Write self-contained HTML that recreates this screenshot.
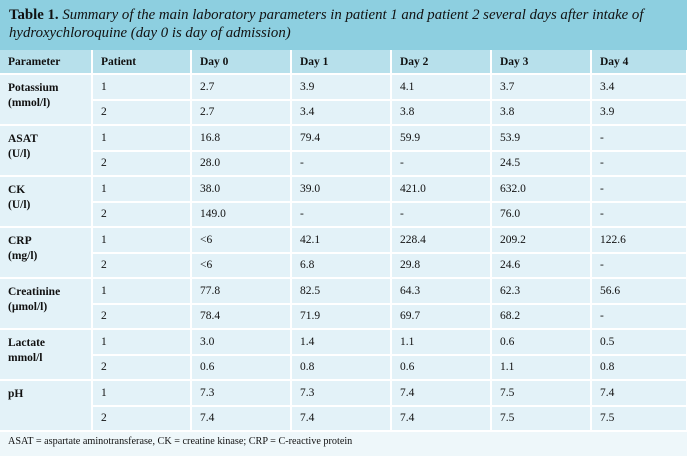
<!DOCTYPE html>
<html><head><meta charset="utf-8"><style>
body{margin:0;width:687px;height:456px;overflow:hidden;background:#eef7fa;font-family:"Liberation Serif",serif;color:#111;}
.title{position:absolute;left:0;top:0;width:687px;height:50px;background:#8dcfe0;}
.title div{position:absolute;left:9px;top:6px;font-size:14.8px;line-height:18px;font-style:italic;white-space:nowrap;}
.title b{font-style:normal;}
table{position:absolute;left:0;top:50px;width:687px;border-collapse:collapse;table-layout:fixed;font-size:11.5px;}
td,th{border:2px solid #fff;padding:0 0 0 8px;text-align:left;vertical-align:middle;background:#e3f2f8;}
th{background:#b7e0eb;height:23px;font-weight:bold;}
td{height:23.5px;}
td.p{font-weight:bold;vertical-align:top;padding-top:6px;line-height:15px;}
tr:first-child th{border-top:0;}
th:first-child,td.p{border-left:0;}
.foot{position:absolute;left:8px;top:436px;font-size:10.2px;}
</style></head><body>
<div class="title"><div><b>Table 1.</b> Summary of the main laboratory parameters in patient 1 and patient 2 several days after intake of<br>hydroxychloroquine (day 0 is day of admission)</div></div>
<table>
<colgroup><col style="width:92px"><col style="width:99px"><col style="width:100px"><col style="width:100px"><col style="width:100px"><col style="width:100px"><col style="width:96px"></colgroup>
<tr><th>Parameter</th><th>Patient</th><th>Day 0</th><th>Day 1</th><th>Day 2</th><th>Day 3</th><th>Day 4</th></tr>
<tr><td class="p" rowspan="2">Potassium<br>(mmol/l)</td><td>1</td><td>2.7</td><td>3.9</td><td>4.1</td><td>3.7</td><td>3.4</td></tr>
<tr><td>2</td><td>2.7</td><td>3.4</td><td>3.8</td><td>3.8</td><td>3.9</td></tr>
<tr><td class="p" rowspan="2">ASAT<br>(U/l)</td><td>1</td><td>16.8</td><td>79.4</td><td>59.9</td><td>53.9</td><td>-</td></tr>
<tr><td>2</td><td>28.0</td><td>-</td><td>-</td><td>24.5</td><td>-</td></tr>
<tr><td class="p" rowspan="2">CK<br>(U/l)</td><td>1</td><td>38.0</td><td>39.0</td><td>421.0</td><td>632.0</td><td>-</td></tr>
<tr><td>2</td><td>149.0</td><td>-</td><td>-</td><td>76.0</td><td>-</td></tr>
<tr><td class="p" rowspan="2">CRP<br>(mg/l)</td><td>1</td><td>&lt;6</td><td>42.1</td><td>228.4</td><td>209.2</td><td>122.6</td></tr>
<tr><td>2</td><td>&lt;6</td><td>6.8</td><td>29.8</td><td>24.6</td><td>-</td></tr>
<tr><td class="p" rowspan="2">Creatinine<br>(µmol/l)</td><td>1</td><td>77.8</td><td>82.5</td><td>64.3</td><td>62.3</td><td>56.6</td></tr>
<tr><td>2</td><td>78.4</td><td>71.9</td><td>69.7</td><td>68.2</td><td>-</td></tr>
<tr><td class="p" rowspan="2">Lactate<br>mmol/l</td><td>1</td><td>3.0</td><td>1.4</td><td>1.1</td><td>0.6</td><td>0.5</td></tr>
<tr><td>2</td><td>0.6</td><td>0.8</td><td>0.6</td><td>1.1</td><td>0.8</td></tr>
<tr><td class="p" rowspan="2">pH</td><td>1</td><td>7.3</td><td>7.3</td><td>7.4</td><td>7.5</td><td>7.4</td></tr>
<tr><td>2</td><td>7.4</td><td>7.4</td><td>7.4</td><td>7.5</td><td>7.5</td></tr>
</table>
<div class="foot">ASAT = aspartate aminotransferase, CK = creatine kinase; CRP = C-reactive protein</div>
</body></html>
